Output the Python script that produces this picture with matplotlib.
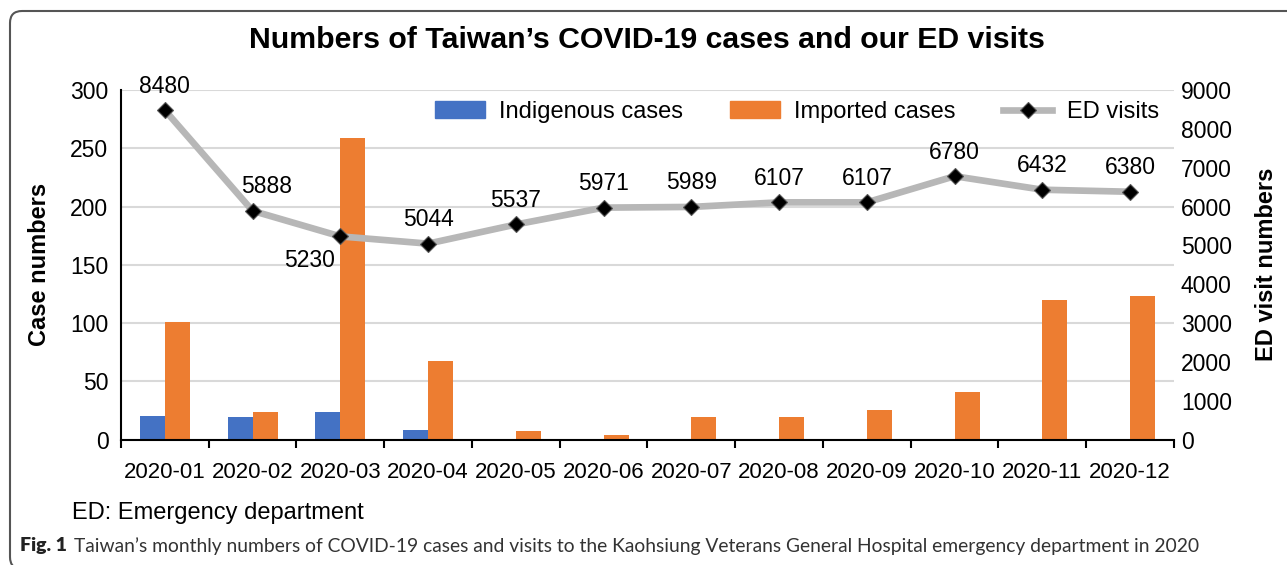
import matplotlib
matplotlib.use("Agg")
import matplotlib.pyplot as plt
import numpy as np
from matplotlib.patches import FancyBboxPatch, Patch
from matplotlib.lines import Line2D

months = ["2020-01", "2020-02", "2020-03", "2020-04", "2020-05", "2020-06",
          "2020-07", "2020-08", "2020-09", "2020-10", "2020-11", "2020-12"]
indigenous = [20, 19, 24, 8, 0, 0, 0, 0, 0, 0, 0, 0]
imported = [101, 24, 259, 67, 7, 4, 19, 19, 25, 41, 120, 123]
ed_visits = [8480, 5888, 5230, 5044, 5537, 5971, 5989, 6107, 6107, 6780, 6432, 6380]

# label nudges (points), the source chart had two labels dragged by hand
label_dx = {1: 10, 2: -22}
label_below = {2}

BLUE = "#4472C4"
ORANGE = "#ED7D31"
LINE_GRAY = "#B7B7B7"
GRID = "#D9D9D9"

plt.rcParams["font.family"] = ["Liberation Sans", "DejaVu Sans"]

fig = plt.figure(figsize=(12.87, 5.65), dpi=100)
ax = fig.add_axes([0.0940, 0.2221, 0.8182, 0.6186])
ax2 = ax.twinx()

x = np.arange(len(months))
w = 0.285
ax.bar(x - w / 2, indigenous, w, color=BLUE, zorder=2)
ax.bar(x + w / 2, imported, w, color=ORANGE, zorder=2)

ax.set_xlim(-0.5, len(months) - 0.5)
ax.set_ylim(0, 300)
ax.set_yticks(np.arange(0, 301, 50))
ax.yaxis.grid(True, color=GRID, lw=1.5)
ax.set_axisbelow(True)
ax.set_xticks(x)
ax.set_xticklabels(months, fontsize=16)
ax.set_xticks(np.arange(-0.5, len(months)), minor=True)
ax.tick_params(axis="x", which="major", length=0, pad=16)
ax.tick_params(axis="x", which="minor", length=6, width=1.5, direction="out")
ax.tick_params(axis="y", length=0, pad=9, labelsize=16.5)
for side in ("top", "right"):
    ax.spines[side].set_visible(False)
for side in ("left", "bottom"):
    ax.spines[side].set_linewidth(1.5)
ax.set_ylabel("Case numbers", fontsize=17, fontweight="bold")
ax.yaxis.set_label_coords(-0.066, 0.5)

ax2.plot(x, ed_visits, color=LINE_GRAY, lw=4.8, marker="D", ms=8,
         mfc="black", mec="#555555", mew=0.8, zorder=3)
ax2.set_ylim(0, 9000)
ax2.set_yticks(np.arange(0, 9001, 1000))
ax2.tick_params(axis="y", length=0, pad=5, labelsize=16.5)
for side in ("top", "right", "left", "bottom"):
    ax2.spines[side].set_visible(False)
ax2.set_ylabel("ED visit numbers", fontsize=17, fontweight="bold")
ax2.yaxis.set_label_coords(1.077, 0.5)

for i, (xi, v) in enumerate(zip(x, ed_visits)):
    below = i in label_below
    ax2.annotate(str(v), (xi, v), xytext=(label_dx.get(i, 0), -9 if below else 9),
                 textcoords="offset points", ha="center",
                 va="top" if below else "bottom", fontsize=16.5)

handles = [
    Patch(color=BLUE, label="Indigenous cases"),
    Patch(color=ORANGE, label="Imported cases"),
    Line2D([], [], color=LINE_GRAY, lw=4.8, marker="D", ms=8, mfc="black",
           mec="#555555", mew=0.8, label="ED visits"),
]
fig.legend(handles=handles, loc="center", bbox_to_anchor=(797 / 1287, 1 - 112 / 565),
           ncol=3, frameon=False, fontsize=17, handlelength=2.1,
           handletextpad=0.6, columnspacing=2.0)

fig.text(0.503, 1 - 40 / 565, "Numbers of Taiwan\u2019s COVID-19 cases and our ED visits",
         ha="center", va="center", fontsize=21.8, fontweight="bold")

fig.text(72 / 1287, 1 - 513 / 565, "ED: Emergency department",
         ha="left", va="center", fontsize=17)
fig.text(20 / 1287, 1 - 546 / 565, "Fig. 1", ha="left", va="center",
         fontsize=14, fontweight="heavy", family=["Lato", "DejaVu Sans"], color="#222222")
fig.text(74 / 1287, 1 - 546 / 565,
         "Taiwan\u2019s monthly numbers of COVID-19 cases and visits to the Kaohsiung "
         "Veterans General Hospital emergency department in 2020",
         ha="left", va="center", fontsize=13.9, family=["Lato", "DejaVu Sans"],
         color="#333333")

# rounded frame, cut off on the right and bottom like the source figure
frame = FancyBboxPatch((0.10, -0.04), 14.0, 5.54 + 0.04,
                       boxstyle="round,pad=0,rounding_size=0.12",
                       transform=fig.dpi_scale_trans, fill=False,
                       edgecolor="#555555", lw=1.5)
fig.add_artist(frame)

fig.savefig("out.png", dpi=100)
